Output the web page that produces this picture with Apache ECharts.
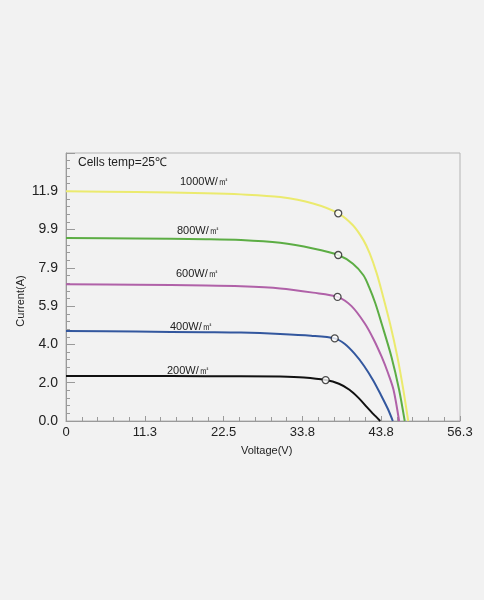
<!DOCTYPE html>
<html>
<head>
<meta charset="utf-8">
<script src="https://cdn.jsdelivr.net/npm/echarts@6/dist/echarts.min.js"></script>
<style>
  html, body { margin: 0; padding: 0; background: #f2f2f2; }
  #chart { width: 484px; height: 600px; }
</style>
</head>
<body>
<div id="chart"></div>
<script>
// tick labels (as printed on the original)
const xTickLabels = ['0', '11.3', '22.5', '33.8', '43.8', '56.3'];
const yTickLabels = ['0.0', '2.0', '4.0', '5.9', '7.9', '9.9', '11.9', ''];

// I-V curves, voltage (V) / current (A)
const volt1000 = [0, 10, 20, 25, 30.6, 35.3, 38.9, 41.0, 42.5, 43.4, 44.4, 45.2, 46.3, 47.35, 48.2, 48.9];
const cur1000 = [11.9, 11.86, 11.8, 11.74, 11.6, 11.27, 10.76, 10.14, 9.37, 8.68, 7.65, 6.6, 5.05, 3.33, 1.62, 0];

const volt800 = [0, 10, 20, 25, 30.6, 35.3, 38.9, 41.0, 42.5, 43.3, 44.2, 45.1, 46.5, 47.6, 48.4];
const cur800 = [9.48, 9.45, 9.42, 9.38, 9.23, 8.94, 8.6, 8.15, 7.55, 6.95, 6.1, 5.05, 3.33, 1.62, 0];

const volt600 = [0, 10, 20, 25, 30.6, 35.3, 38.8, 40.8, 42.7, 44.0, 45.1, 46.0, 46.8, 47.6];
const cur600 = [7.09, 7.06, 7.02, 6.98, 6.87, 6.65, 6.43, 5.95, 5.05, 4.2, 3.33, 2.5, 1.62, 0];

const volt400 = [0, 10, 20, 25, 30.6, 35.0, 38.4, 39.8, 41.2, 42.6, 43.9, 45.0, 46.0, 46.7];
const cur400 = [4.66, 4.63, 4.6, 4.58, 4.51, 4.42, 4.28, 4.0, 3.5, 2.85, 2.1, 1.35, 0.62, 0];

const volt200 = [0, 10, 20, 25, 30.6, 34.0, 37.1, 39.0, 40.5, 41.8, 43.0, 44.0, 44.9];
const cur200 = [2.33, 2.33, 2.32, 2.32, 2.3, 2.25, 2.12, 1.93, 1.62, 1.2, 0.72, 0.33, 0];

// maximum power points
const mppVolt = [38.9, 38.9, 38.8, 38.4, 37.1];
const mppCur = [10.76, 8.6, 6.43, 4.28, 2.12];

const curveNames = ['1000W/㎡', '800W/㎡', '600W/㎡', '400W/㎡', '200W/㎡'];
const curveColors = ['#ebea6e', '#5cad44', '#b061a8', '#33579e', '#111111'];

const xMax = 56.3;
const xStep = xMax / 5;
const yStep = 11.9 / 6;

function zip(xs, ys) {
  return xs.map((x, i) => [x, ys[i]]);
}

const curves = [
  zip(volt1000, cur1000),
  zip(volt800, cur800),
  zip(volt600, cur600),
  zip(volt400, cur400),
  zip(volt200, cur200)
];

const series = curves.map((data, i) => ({
  name: curveNames[i],
  type: 'line',
  data: data,
  smooth: 0.3,
  showSymbol: false,
  lineStyle: { color: curveColors[i], width: 2 },
  z: 2
}));

series.push({
  type: 'scatter',
  data: zip(mppVolt, mppCur),
  symbol: 'circle',
  symbolSize: 7,
  itemStyle: { color: '#ffffff', borderColor: '#222', borderWidth: 1.3 },
  z: 5
});

// curve labels (pixel placement of annotations)
const labelPos = [[204, 183], [201, 232], [200, 275], [194, 328], [191, 372]];
const txtFont = '"Liberation Sans", Arial, sans-serif';

const graphic = labelPos.map((p, i) => ({
  type: 'text',
  left: p[0] - 24,
  top: p[1] - 7,
  style: { text: curveNames[i], font: '11px ' + txtFont, fill: '#222' }
}));
graphic.push({
  type: 'text', left: 78, top: 157,
  style: { text: 'Cells temp=25℃', font: '12px ' + txtFont, fill: '#222' }
});
graphic.push({
  type: 'text', left: 241, top: 445,
  style: { text: 'Voltage(V)', font: '11px ' + txtFont, fill: '#222' }
});
graphic.push({
  type: 'text', x: 21, y: 301, rotation: Math.PI / 2,
  style: { text: 'Current(A)', font: '11px ' + txtFont, fill: '#222', align: 'center', verticalAlign: 'middle' }
});

const chart = echarts.init(document.getElementById('chart'));
chart.setOption({
  backgroundColor: '#f2f2f2',
  animation: false,
  grid: {
    left: 66, top: 153, right: 24, bottom: 179,
    show: true, borderColor: '#b4b4b4', borderWidth: 1, backgroundColor: 'transparent'
  },
  xAxis: {
    type: 'value',
    min: 0, max: xMax, interval: xStep,
    axisLine: { lineStyle: { color: '#9a9a9a' } },
    axisTick: { inside: true, length: 5, lineStyle: { color: '#9a9a9a' } },
    minorTick: { show: true, splitNumber: 5, length: 4, lineStyle: { color: '#9a9a9a' } },
    splitLine: { show: false },
    axisLabel: {
      color: '#222', fontSize: 13, fontFamily: txtFont, margin: 5,
      formatter: v => xTickLabels[Math.round(v / xStep)] || ''
    }
  },
  yAxis: {
    type: 'value',
    min: 0, max: yStep * 7, interval: yStep,
    axisLine: { show: true, lineStyle: { color: '#9a9a9a' } },
    axisTick: { inside: true, length: 9, lineStyle: { color: '#9a9a9a' } },
    minorTick: { show: true, splitNumber: 5, length: 4, lineStyle: { color: '#9a9a9a' } },
    splitLine: { show: false },
    axisLabel: {
      color: '#222', fontSize: 14, fontFamily: txtFont, margin: 8,
      formatter: v => yTickLabels[Math.round(v / yStep)] || ''
    }
  },
  series: series,
  graphic: graphic
});
</script>
</body>
</html>
